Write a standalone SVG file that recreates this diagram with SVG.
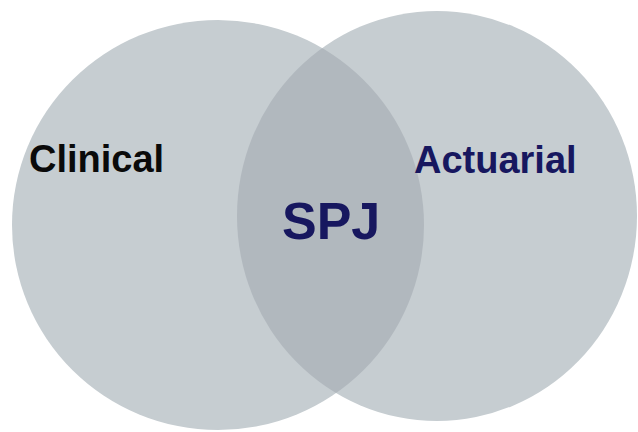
<svg xmlns="http://www.w3.org/2000/svg" width="638" height="432" viewBox="0 0 638 432">
  <style>
    .circle { fill: #c6cdd1; }
    .lens { fill: #b1b8be; }
    .lbl { font-family: "Liberation Sans", Arial, sans-serif; font-weight: bold; }
  </style>
  <defs>
    <clipPath id="clipLeft">
      <ellipse cx="218" cy="225" rx="206" ry="205"/>
    </clipPath>
  </defs>
  <rect width="638" height="432" fill="#ffffff"/>
  <g id="clinical">
    <ellipse class="circle" cx="218" cy="225" rx="206" ry="205"/>
  </g>
  <g id="actuarial">
    <ellipse class="circle" cx="437" cy="216" rx="200" ry="205"/>
  </g>
  <g id="spj">
    <ellipse class="lens" cx="437" cy="216" rx="200" ry="205" clip-path="url(#clipLeft)"/>
  </g>
  <g id="labels">
    <text class="lbl" x="29" y="172" font-size="38" fill="#0a0a0a">Clinical</text>
    <text class="lbl" x="414" y="173" font-size="38" fill="#17175f">Actuarial</text>
    <text class="lbl" x="282" y="239" font-size="52" fill="#17175f">SPJ</text>
  </g>
</svg>
